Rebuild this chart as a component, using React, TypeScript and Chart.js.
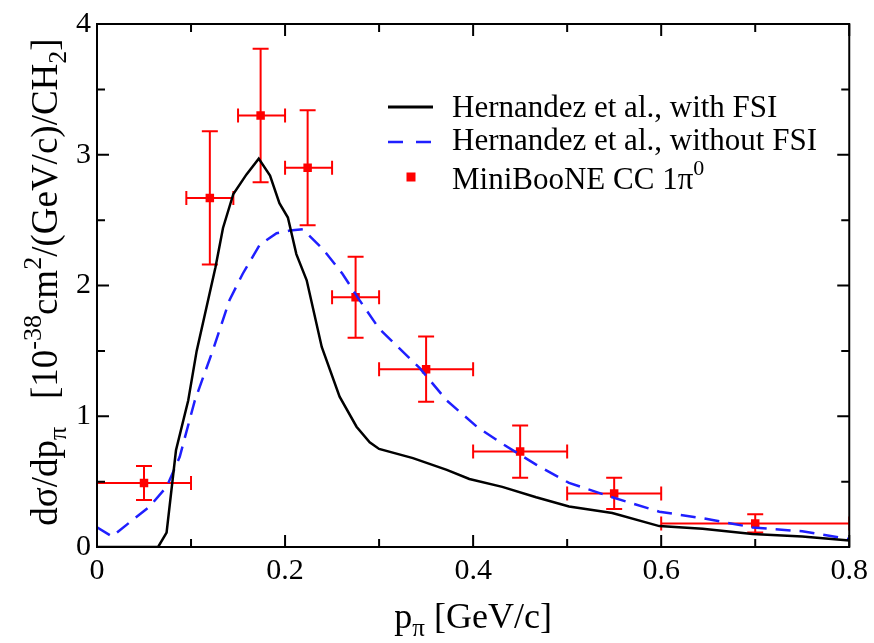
import React, { useEffect, useRef } from "react";
import { Chart, registerables } from "chart.js";

Chart.register(...registerables);

// Hernandez et al., with FSI
const withFsiP = [0, 0.065, 0.074, 0.084, 0.097, 0.106, 0.126, 0.134, 0.145, 0.159, 0.172, 0.184, 0.194, 0.203, 0.212, 0.223, 0.239, 0.258, 0.276, 0.29, 0.3, 0.336, 0.372, 0.396, 0.431, 0.467, 0.502, 0.548, 0.598, 0.644, 0.697, 0.75, 0.8];
const withFsiSigma = [0, 0, 0.11, 0.74, 1.12, 1.5, 2.14, 2.44, 2.7, 2.85, 2.97, 2.84, 2.63, 2.52, 2.24, 2.04, 1.53, 1.15, 0.92, 0.8, 0.75, 0.68, 0.59, 0.52, 0.46, 0.38, 0.31, 0.26, 0.16, 0.14, 0.1, 0.08, 0.05];

// Hernandez et al., without FSI
const noFsiP = [0, 0.016, 0.035, 0.056, 0.074, 0.088, 0.104, 0.123, 0.141, 0.155, 0.173, 0.191, 0.205, 0.219, 0.24, 0.261, 0.279, 0.3, 0.343, 0.372, 0.404, 0.431, 0.467, 0.502, 0.548, 0.598, 0.644, 0.697, 0.75, 0.8];
const noFsiSigma = [0.15, 0.08, 0.19, 0.31, 0.46, 0.69, 1.12, 1.5, 1.89, 2.09, 2.31, 2.4, 2.42, 2.43, 2.28, 2.09, 1.89, 1.67, 1.37, 1.12, 0.92, 0.79, 0.63, 0.49, 0.38, 0.27, 0.22, 0.15, 0.12, 0.06];

// MiniBooNE CC 1pi0 data
const dataP = [0.05, 0.12, 0.174, 0.224, 0.275, 0.35, 0.45, 0.55, 0.7];
const dataSigma = [0.49, 2.67, 3.3, 2.9, 1.91, 1.36, 0.73, 0.41, 0.18];
const dataSigmaErr = [0.13, 0.51, 0.51, 0.44, 0.31, 0.25, 0.2, 0.12, 0.07];
const binLow = [0, 0.095, 0.15, 0.2, 0.25, 0.3, 0.4, 0.5, 0.6];
const binHigh = [0.1, 0.145, 0.2, 0.25, 0.3, 0.4, 0.5, 0.6, 0.8];

const xMinorTicks = [0, 0.1, 0.2, 0.3, 0.4, 0.5, 0.6, 0.7, 0.8];
const yMinorTicks = [0, 0.5, 1, 1.5, 2, 2.5, 3, 3.5, 4];

const SERIF = '"Liberation Serif", "DejaVu Serif", serif';
const RED = "#ff0000";
const BLUE = "#1f1fff";

type Seg = { t: string; size: number; dy: number };

function drawRich(ctx: CanvasRenderingContext2D, segs: Seg[], x: number, y: number, align: "center" | "left", sx = 1) {
  ctx.save();
  ctx.translate(x, y);
  ctx.scale(sx, 1);
  ctx.textAlign = "left";
  ctx.textBaseline = "alphabetic";
  ctx.fillStyle = "#000";
  let total = 0;
  for (const s of segs) {
    ctx.font = `${s.size}px ${SERIF}`;
    total += ctx.measureText(s.t).width;
  }
  let cx = align === "center" ? -total / 2 : 0;
  for (const s of segs) {
    ctx.font = `${s.size}px ${SERIF}`;
    ctx.fillText(s.t, cx, s.dy);
    cx += ctx.measureText(s.t).width;
  }
  ctx.restore();
}

const decorPlugin = {
  id: "decor",
  beforeDatasetsDraw(chart: any) {
    const { ctx, chartArea, scales } = chart;
    const xs = scales.x;
    const ys = scales.y;
    ctx.save();
    ctx.beginPath();
    ctx.rect(chartArea.left, chartArea.top, chartArea.right - chartArea.left, chartArea.bottom - chartArea.top);
    ctx.clip();
    ctx.strokeStyle = RED;
    ctx.lineWidth = 2;
    for (let i = 0; i < dataP.length; i++) {
      const px = xs.getPixelForValue(dataP[i]);
      const py = ys.getPixelForValue(dataSigma[i]);
      const yTop = ys.getPixelForValue(dataSigma[i] + dataSigmaErr[i]);
      const yBot = ys.getPixelForValue(dataSigma[i] - dataSigmaErr[i]);
      const xL = xs.getPixelForValue(binLow[i]);
      const xR = xs.getPixelForValue(binHigh[i]);
      const capW = 8;
      const capH = 7;
      ctx.beginPath();
      ctx.moveTo(px, yTop);
      ctx.lineTo(px, yBot);
      ctx.moveTo(px - capW, yTop);
      ctx.lineTo(px + capW, yTop);
      ctx.moveTo(px - capW, yBot);
      ctx.lineTo(px + capW, yBot);
      ctx.moveTo(xL, py);
      ctx.lineTo(xR, py);
      ctx.moveTo(xL, py - capH);
      ctx.lineTo(xL, py + capH);
      ctx.moveTo(xR, py - capH);
      ctx.lineTo(xR, py + capH);
      ctx.stroke();
    }
    ctx.restore();
  },
  afterDraw(chart: any) {
    const { ctx, chartArea, scales } = chart;
    const xs = scales.x;
    const ys = scales.y;
    const { left, right, top, bottom } = chartArea;
    ctx.save();
    // frame
    ctx.strokeStyle = "#000";
    ctx.lineWidth = 2;
    ctx.strokeRect(left, top, right - left, bottom - top);
    // inward ticks
    ctx.beginPath();
    xMinorTicks.forEach((v, i) => {
      const len = i % 2 === 0 ? 12 : 8;
      const px = xs.getPixelForValue(v);
      ctx.moveTo(px, bottom);
      ctx.lineTo(px, bottom - len);
      ctx.moveTo(px, top);
      ctx.lineTo(px, top + len);
    });
    yMinorTicks.forEach((v, i) => {
      const len = i % 2 === 0 ? 12 : 8;
      const py = ys.getPixelForValue(v);
      ctx.moveTo(left, py);
      ctx.lineTo(left + len, py);
      ctx.moveTo(right, py);
      ctx.lineTo(right - len, py);
    });
    ctx.stroke();

    // x-axis title
    drawRich(
      ctx,
      [
        { t: "p", size: 36, dy: 0 },
        { t: "\u03c0", size: 25, dy: 8 },
        { t: " [GeV/c]", size: 36, dy: 0 },
      ],
      (left + right) / 2,
      628,
      "center"
    );

    // y-axis title (rotated)
    ctx.save();
    ctx.translate(57, 282);
    ctx.rotate(-Math.PI / 2);
    drawRich(
      ctx,
      [
        { t: "d\u03c3/dp", size: 37, dy: 0 },
        { t: "\u03c0", size: 26, dy: 9 },
        { t: "   [10", size: 37, dy: 0 },
        { t: "-38", size: 26, dy: -16 },
        { t: "cm", size: 37, dy: 0 },
        { t: "2", size: 26, dy: -16 },
        { t: "/(GeV/c)/CH", size: 37, dy: 0 },
        { t: "2", size: 26, dy: 9 },
        { t: "]", size: 37, dy: 0 },
      ],
      0,
      0,
      "center"
    );
    ctx.restore();

    // legend
    const lx0 = 388;
    const lx1 = 433;
    const tx = 452;
    ctx.lineWidth = 3;
    ctx.strokeStyle = "#000";
    ctx.beginPath();
    ctx.moveTo(lx0, 107);
    ctx.lineTo(lx1, 107);
    ctx.stroke();
    drawRich(ctx, [{ t: "Hernandez et al., with FSI", size: 31, dy: 0 }], tx, 117, "left");

    ctx.strokeStyle = BLUE;
    ctx.lineWidth = 2.5;
    ctx.setLineDash([15, 13]);
    ctx.beginPath();
    ctx.moveTo(lx0, 142);
    ctx.lineTo(lx1, 142);
    ctx.stroke();
    ctx.setLineDash([]);
    drawRich(ctx, [{ t: "Hernandez et al., without FSI", size: 31, dy: 0 }], tx, 150, "left");

    ctx.fillStyle = RED;
    ctx.fillRect(411 - 4.5, 177 - 4.5, 9, 9);
    drawRich(
      ctx,
      [
        { t: "MiniBooNE CC 1\u03c0", size: 31, dy: 0 },
        { t: "0", size: 22, dy: -14 },
      ],
      tx,
      189,
      "left"
    );
    ctx.restore();
  },
};

export default function App() {
  const canvasRef = useRef<HTMLCanvasElement | null>(null);

  useEffect(() => {
    const canvas = canvasRef.current;
    if (!canvas) return;
    const chart = new Chart(canvas, {
      type: "scatter",
      data: {
        datasets: [
          {
            label: "Hernandez et al., with FSI",
            data: withFsiP.map((p, i) => ({ x: p, y: withFsiSigma[i] })),
            showLine: true,
            borderColor: "#000",
            borderWidth: 2.5,
            pointRadius: 0,
            tension: 0,
          },
          {
            label: "Hernandez et al., without FSI",
            data: noFsiP.map((p, i) => ({ x: p, y: noFsiSigma[i] })),
            showLine: true,
            borderColor: BLUE,
            borderWidth: 2.5,
            borderDash: [15, 9],
            pointRadius: 0,
            tension: 0,
          },
          {
            label: "MiniBooNE CC 1\u03c0\u2070",
            data: dataP.map((p, i) => ({ x: p, y: dataSigma[i] })),
            pointStyle: "rect",
            pointRadius: 6,
            backgroundColor: RED,
            borderColor: RED,
            borderWidth: 0,
          },
        ],
      },
      options: {
        responsive: false,
        animation: false,
        devicePixelRatio: 1,
        layout: { padding: { left: 52, right: 24, top: 23, bottom: 46 } },
        plugins: { legend: { display: false }, tooltip: { enabled: false } },
        scales: {
          x: {
            type: "linear",
            min: 0,
            max: 0.8,
            grid: { display: false, drawTicks: false },
            border: { display: true, color: "#000", width: 2 },
            ticks: {
              stepSize: 0.1,
              autoSkip: false,
              maxRotation: 0,
              padding: 6,
              color: "#000",
              font: { family: SERIF, size: 30 },
              callback: (v: any) => {
                const n = Math.round(Number(v) * 10);
                if (n % 2 !== 0) return "";
                return n === 0 ? "0" : (n / 10).toFixed(1);
              },
            },
            afterFit: (s: any) => {
              s.height = 50;
            },
          },
          y: {
            type: "linear",
            min: 0,
            max: 4,
            grid: { display: false, drawTicks: false },
            border: { display: true, color: "#000", width: 2 },
            ticks: {
              stepSize: 0.5,
              autoSkip: false,
              padding: 6,
              color: "#000",
              font: { family: SERIF, size: 30 },
              callback: (v: any) => {
                const n = Number(v);
                return Math.abs(n - Math.round(n)) < 1e-6 ? String(Math.round(n)) : "";
              },
            },
            afterFit: (s: any) => {
              s.width = 45;
            },
          },
        },
      },
      plugins: [decorPlugin],
    });
    return () => chart.destroy();
  }, []);

  return (
    <div style={{ position: "absolute", left: 0, top: 0, width: 874, height: 643, background: "#fff" }}>
      <canvas ref={canvasRef} width={874} height={643} style={{ display: "block" }} />
    </div>
  );
}
